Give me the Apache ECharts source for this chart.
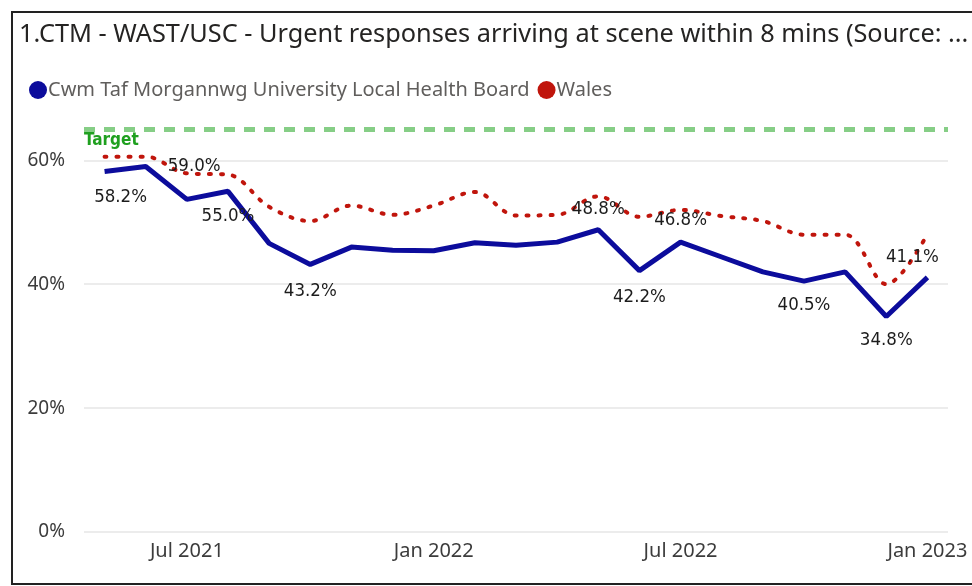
<!DOCTYPE html>
<html>
<head>
<meta charset="utf-8">
<script src="https://cdn.jsdelivr.net/npm/echarts@6/dist/echarts.min.js"></script>
<style>
  html, body { margin: 0; padding: 0; background: #fff; }
  #chart { width: 972px; height: 586px; }
</style>
</head>
<body>
<div id="chart"></div>
<script>
// monthly points, May 2021 - Jan 2023
var months = ['May 2021', 'Jun 2021', 'Jul 2021', 'Aug 2021', 'Sep 2021', 'Oct 2021', 'Nov 2021', 'Dec 2021',
    'Jan 2022', 'Feb 2022', 'Mar 2022', 'Apr 2022', 'May 2022', 'Jun 2022', 'Jul 2022', 'Aug 2022',
    'Sep 2022', 'Oct 2022', 'Nov 2022', 'Dec 2022', 'Jan 2023'];
var ctmValues = [58.2, 59.0, 53.7, 55.0, 46.6, 43.2, 46.0, 45.5, 45.4, 46.7, 46.3, 46.8, 48.8, 42.2, 46.8,
    44.4, 42.0, 40.5, 42.0, 34.8, 41.1];
var walesValues = [60.6, 60.6, 57.9, 57.7, 52.5, 50.2, 52.7, 51.2, 52.7, 54.9, 51.1, 51.2, 54.2, 50.9, 52.0,
    51.0, 50.2, 48.0, 48.0, 40.0, 48.1];
var targetValue = 65;
var yTicks = [0, 20, 40, 60];

var blue = '#0C0C9C';
var red = '#C0150C';

// which CTM points get a data label and where (power bi style placement)
var labelPlace = {
    0: { position: 'bottom', distance: 16, offset: [16, 0] },
    1: { position: 'right', distance: 22 },
    3: { position: 'bottom', distance: 15 },
    5: { position: 'bottom', distance: 17 },
    12: { position: 'top', distance: 11 },
    13: { position: 'bottom', distance: 17 },
    14: { position: 'top', distance: 12 },
    17: { position: 'bottom', distance: 15 },
    19: { position: 'bottom', distance: 14 },
    20: { position: 'top', distance: 11, offset: [-15, 0] }
};

var ctmData = ctmValues.map(function (v, i) {
    var item = { value: v };
    if (labelPlace[i]) {
        item.label = Object.assign({ show: true }, labelPlace[i]);
    }
    return item;
});

var myChart = echarts.init(document.getElementById('chart'));

var option = {
    animation: false,
    graphic: [{
        type: 'rect',
        shape: { x: 12, y: 12, width: 980, height: 572 },
        style: { fill: 'none', stroke: '#222', lineWidth: 2 },
        silent: true
    }],
    title: {
        text: '1.CTM - WAST/USC - Urgent responses arriving at scene within 8 mins (Source: ...',
        left: 14,
        top: 17,
        textStyle: {
            fontFamily: 'Noto Sans',
            fontWeight: 'normal',
            fontSize: 25.3,
            color: '#252423'
        }
    },
    legend: {
        left: 24,
        top: 75,
        icon: 'circle',
        itemWidth: 18,
        itemHeight: 18,
        itemGap: 8,
        textStyle: {
            fontFamily: 'Noto Sans',
            fontSize: 20,
            color: '#605E5C',
            padding: [0, 0, 0, -4]
        },
        data: ['Cwm Taf Morgannwg University Local Health Board', 'Wales']
    },
    grid: {
        left: 84,
        right: 24,
        top: 117,
        bottom: 54
    },
    xAxis: {
        type: 'category',
        data: months,
        boundaryGap: true,
        axisLine: { show: false },
        axisTick: { show: false },
        axisLabel: {
            interval: function (i, val) { return /^(Jan|Jul)/.test(val); },
            fontFamily: 'Noto Sans',
            fontSize: 20,
            color: '#3C3C3C',
            margin: 9
        }
    },
    yAxis: {
        type: 'value',
        min: yTicks[0],
        max: 67,
        interval: yTicks[1] - yTicks[0],
        axisLine: { show: false },
        axisTick: { show: false },
        axisLabel: {
            showMaxLabel: false,
            fontFamily: 'Noto Sans',
            fontSize: 19,
            color: '#3C3C3C',
            margin: 19,
            formatter: function (v) { return yTicks.indexOf(v) >= 0 ? v + '%' : ''; }
        },
        splitLine: {
            showMaxLine: false,
            lineStyle: { color: '#E6E6E6', width: 1.5 }
        }
    },
    series: [{
        name: 'Wales',
        type: 'line',
        data: walesValues,
        smooth: 0.35,
        symbol: 'none',
        color: red,
        lineStyle: { color: red, width: 4, type: [2, 10], cap: 'round' },
        z: 2
    }, {
        name: 'Cwm Taf Morgannwg University Local Health Board',
        type: 'line',
        data: ctmData,
        symbol: 'circle',
        symbolSize: 0,
        showSymbol: true,
        showAllSymbol: true,
        color: blue,
        lineStyle: { color: blue, width: 5 },
        label: {
            show: false,
            fontFamily: 'DejaVu Sans Condensed',
            fontSize: 18.5,
            color: '#1C1C1C',
            formatter: function (p) { return p.value.toFixed(1) + '%'; }
        },
        markLine: {
            silent: true,
            symbol: 'none',
            lineStyle: { color: '#86CE86', width: 5, type: [11, 9] },
            label: {
                show: true,
                position: 'insideStartBottom',
                formatter: 'Target',
                fontFamily: 'DejaVu Sans Condensed',
                fontWeight: 'bold',
                fontSize: 17,
                color: '#1FA01F',
                distance: [0, 3]
            },
            data: [{ yAxis: targetValue }]
        },
        z: 3
    }]
};

myChart.setOption(option);
</script>
</body>
</html>
